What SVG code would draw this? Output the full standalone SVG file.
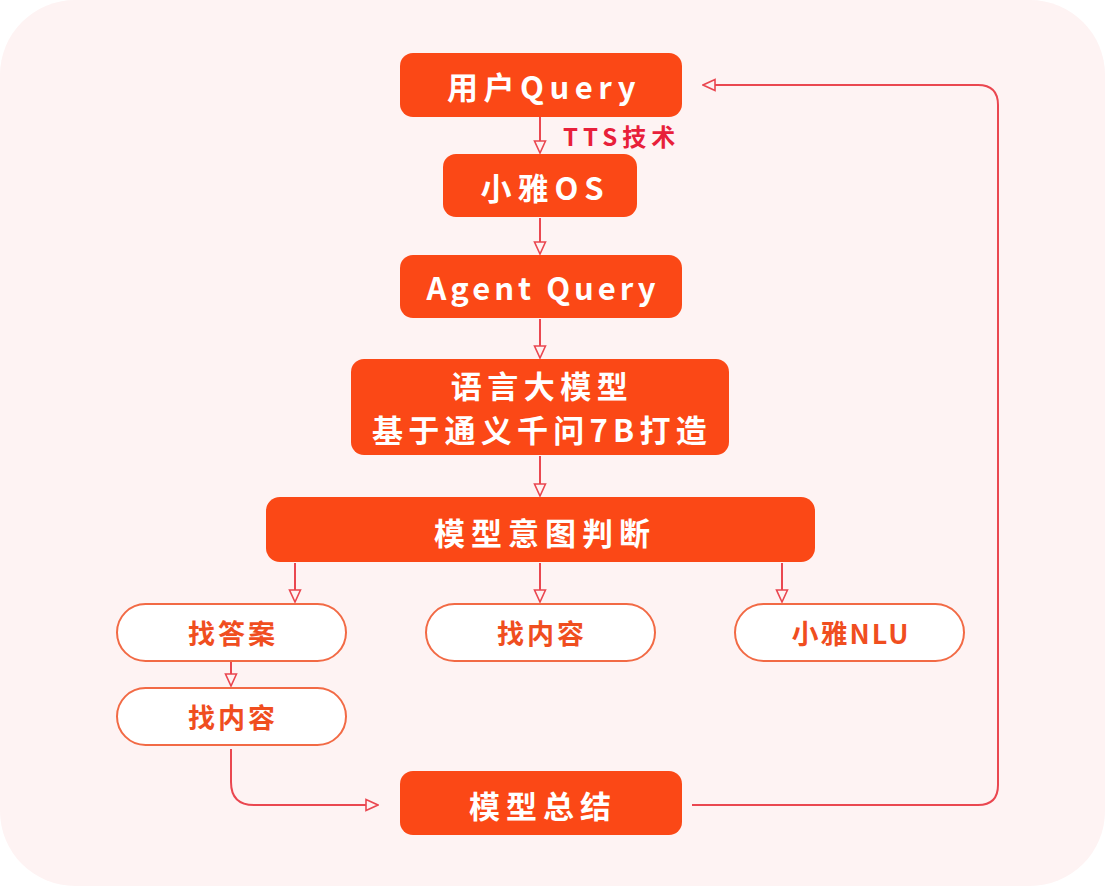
<svg xmlns="http://www.w3.org/2000/svg" width="1105" height="886" viewBox="0 0 1105 886">
<defs>
<marker id="tri" viewBox="0 0 14 14" refX="13" refY="7" markerWidth="14" markerHeight="14" markerUnits="userSpaceOnUse" orient="auto">
<path d="M1,1.5 L13,7 L1,12.5 Z" fill="#FEF3F3" stroke="#EA4750" stroke-width="1.6"/>
</marker>
<style>
.n{fill:#FB4816}
.p{fill:#FFFFFF;stroke:#F26A45;stroke-width:2}
.t{font-family:"Noto Sans CJK SC","Noto Sans",sans-serif;font-weight:700;fill:#FFFFFF;font-size:31px;text-anchor:middle}
.pt{font-family:"Noto Sans CJK SC","Noto Sans",sans-serif;font-weight:700;fill:#F04E1F;font-size:27px;text-anchor:middle}
.c{fill:none;stroke:#EA4750;stroke-width:2;marker-end:url(#tri)}
</style>
</defs>
<rect x="0" y="0" width="1105" height="886" fill="#FFFFFF"/>
<rect x="0" y="0" width="1105" height="886" rx="75" fill="#FEF3F3"/>
<g id="connectors">
<path class="c" d="M540,117 V153"/>
<path class="c" d="M540,218 V254"/>
<path class="c" d="M540,319 V358"/>
<path class="c" d="M540,456 V496"/>
<path class="c" d="M295,563 V602"/>
<path class="c" d="M540,563 V602"/>
<path class="c" d="M782,563 V602"/>
<path class="c" d="M231,661 V686"/>
<path class="c" d="M231,749 V782 Q231,805 254,805 H378"/>
<path class="c" d="M692,805 H978 Q998,805 998,785 V105 Q998,85 978,85 H703"/>
<text x="563" y="146" font-family="'Noto Sans CJK SC','Noto Sans',sans-serif" font-weight="700" font-size="24" fill="#E8203A" letter-spacing="5">TTS技术</text>
</g>
<g id="user-query"><rect class="n" x="400" y="53" width="282" height="64" rx="13"/><text class="t" x="544" y="99" letter-spacing="5.5">用户Query</text></g>
<g id="xiaoya-os"><rect class="n" x="443" y="154" width="194" height="63" rx="13"/><text class="t" x="545" y="200" letter-spacing="6">小雅OS</text></g>
<g id="agent-query"><rect class="n" x="400" y="255" width="282" height="63" rx="13"/><text class="t" x="543" y="300" letter-spacing="4">Agent Query</text></g>
<g id="llm"><rect class="n" x="351" y="359" width="378" height="96" rx="13"/><text class="t" x="542" y="398" font-size="29" letter-spacing="5.5">语言大模型</text><text class="t" x="542" y="442" font-size="29" letter-spacing="5.25">基于通义千问7B打造</text></g>
<g id="intent"><rect class="n" x="266" y="497" width="549" height="65" rx="14"/><text class="t" x="545" y="545" letter-spacing="6">模型意图判断</text></g>
<g id="find-answer"><rect class="p" x="117" y="604" width="229" height="57" rx="28.5"/><text class="pt" x="233" y="644" letter-spacing="3">找答案</text></g>
<g id="find-content-1"><rect class="p" x="426" y="604" width="229" height="57" rx="28.5"/><text class="pt" x="542" y="644" letter-spacing="3">找内容</text></g>
<g id="xiaoya-nlu"><rect class="p" x="735" y="604" width="229" height="57" rx="28.5"/><text class="pt" x="851" y="644" letter-spacing="2">小雅NLU</text></g>
<g id="find-content-2"><rect class="p" x="117" y="688" width="229" height="57" rx="28.5"/><text class="pt" x="233" y="728" letter-spacing="3">找内容</text></g>
<g id="summary"><rect class="n" x="400" y="771" width="282" height="64" rx="13"/><text class="t" x="543" y="818" letter-spacing="6">模型总结</text></g>
</svg>
